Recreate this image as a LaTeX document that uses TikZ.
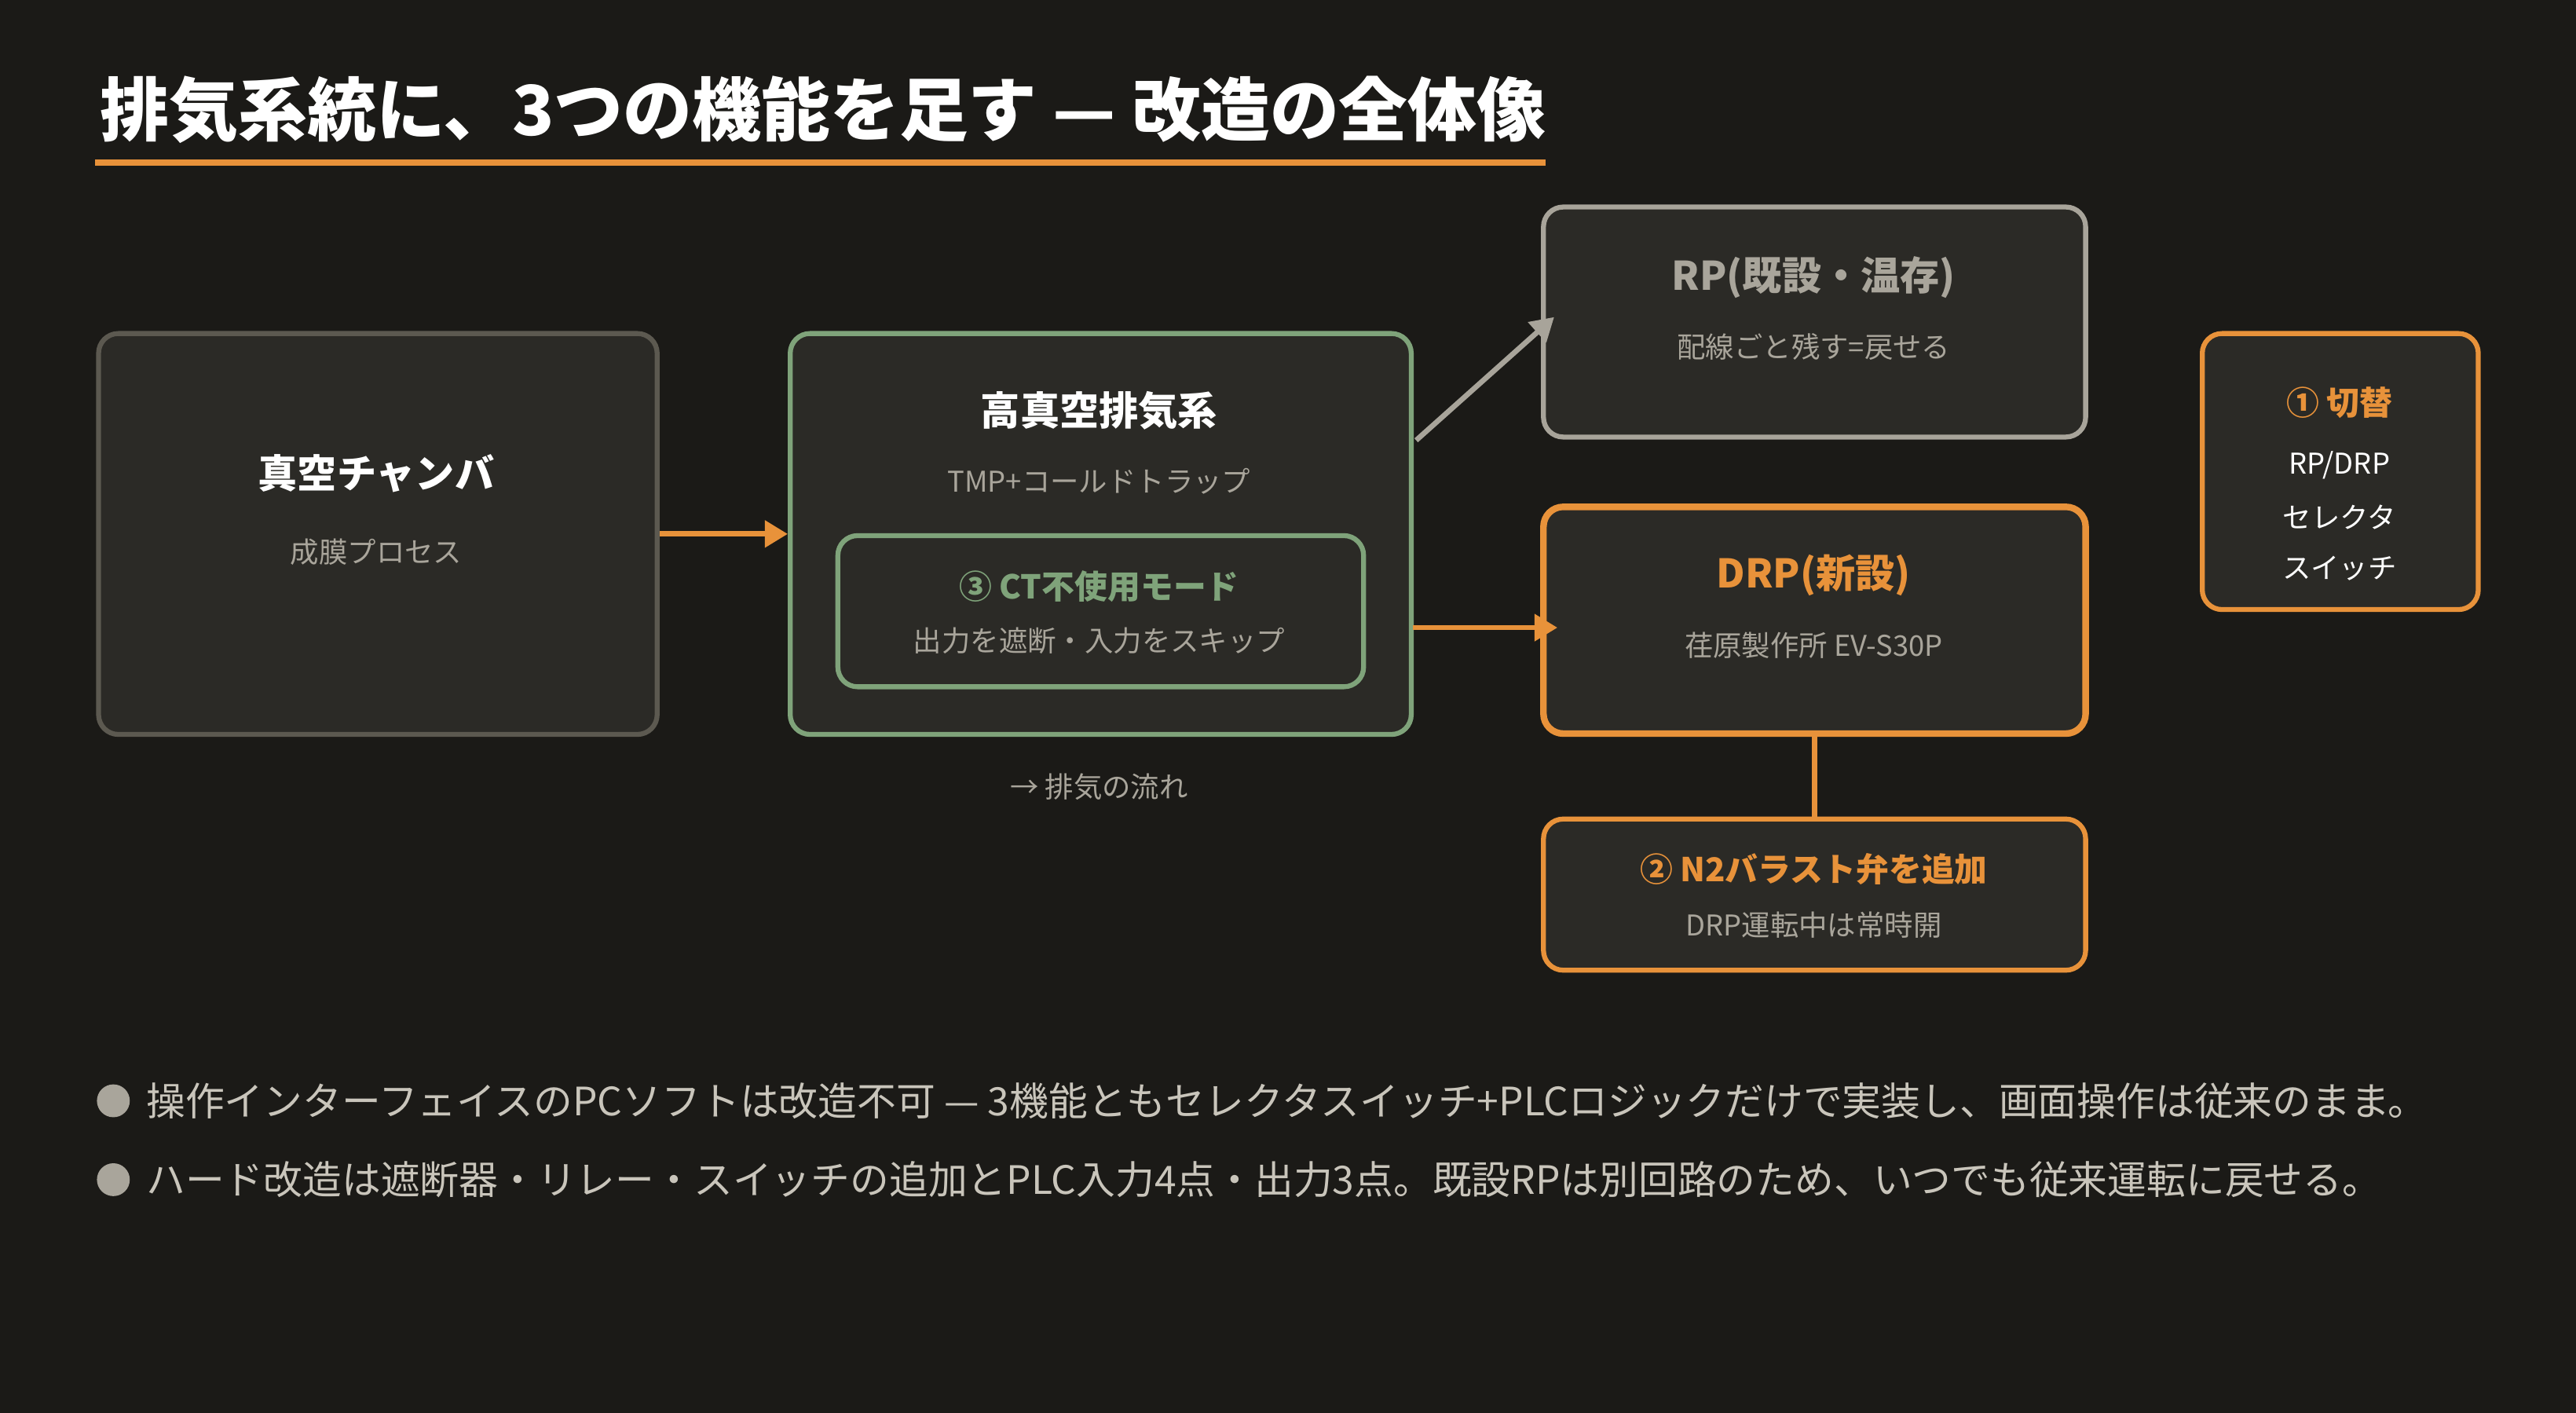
\documentclass[tikz,border=0pt]{standalone}
\usepackage{fontspec}
\setmainfont{Noto Sans CJK JP}
\usetikzlibrary{arrows.meta,positioning}
\definecolor{bgc}{HTML}{1B1A17}
\definecolor{boxc}{HTML}{2B2A26}
\definecolor{greyedge}{HTML}{5C5950}
\definecolor{lightedge}{HTML}{A8A49A}
\definecolor{greenc}{HTML}{7FA37A}
\definecolor{orangec}{HTML}{E8923A}
\definecolor{subc}{HTML}{A9A59B}
\definecolor{bodyc}{HTML}{C9C5BB}
\tikzset{
  box/.style={draw, fill=boxc, rounded corners=6pt, line width=1.5pt, inner sep=0pt},
  head/.style={font=\fontsize{12}{14}\selectfont\bfseries},
  small head/.style={font=\fontsize{10}{12}\selectfont\bfseries},
  sub/.style={font=\fontsize{8.7}{10}\selectfont, text=subc},
  flow/.style={orangec, line width=1.6pt, -{Triangle[length=7pt,width=8pt]}}
}
\begin{document}
\begin{tikzpicture}[x=0.5pt,y=-0.5pt]
\fill[bgc] (0,0) rectangle (1568,860);
\useasboundingbox (0,0) rectangle (1568,860);

%title
\node[anchor=west, text=white, font=\fontsize{21}{24}\selectfont\bfseries] (title) at (54,67) {排気系統に、3つの機能を足す — 改造の全体像};
\draw[orangec, line width=2pt] (58,99) -- (941,99);

%boxes
\node[box, draw=greyedge, minimum width=170pt, minimum height=122pt] (cham) at (230,325) {};
\node[box, draw=greenc, minimum width=189pt, minimum height=122pt] (hv) at (670,325) {};
\node[box, draw=greenc, minimum width=160pt, minimum height=46pt] (ct) at (670,372) {};
\node[box, draw=lightedge, minimum width=165pt, minimum height=70pt] (rp) at (1104.5,196) {};
\node[box, draw=orangec, line width=2pt, minimum width=165pt, minimum height=69pt] (drp) at (1104.5,377.5) {};
\node[box, draw=orangec, minimum width=165pt, minimum height=46pt] (n2) at (1104.5,544.5) {};
\node[box, draw=orangec, minimum width=84pt, minimum height=84pt] (sel) at (1424.5,287) {};
\coordinate (hvOut) at (862,268);
\coordinate (rpIn) at (946,193);
\coordinate (drpOut) at (860,382);
\coordinate (drpIn) at (948,382);

%texts
\node[head, text=white] (chamT) at (229,288) {真空チャンバ};
\node[sub] (chamS) at (229,336) {成膜プロセス};
\node[head, text=white] (hvT) at (669,250) {高真空排気系};
\node[sub] (hvS) at (669,293) {TMP+コールドトラップ};
\node[small head, text=greenc] (ctT) at (669,357) {③ CT不使用モード};
\node[sub] (ctS) at (669,390) {出力を遮断・入力をスキップ};
\node[head, text=subc] (rpT) at (1104,169) {RP(既設・温存)};
\node[sub] (rpS) at (1104,211) {配線ごと残す=戻せる};
\node[head, text=orangec] (drpT) at (1104,350) {DRP(新設)};
\node[sub] (drpS) at (1104,393) {荏原製作所 EV-S30P};
\node[small head, text=orangec] (n2T) at (1104,529) {② N2バラスト弁を追加};
\node[sub] (n2S) at (1104,563) {DRP運転中は常時開};
\node[small head, text=orangec] (selT) at (1424,245) {① 切替};
\node[sub, text=white] (selA) at (1424,283) {RP/DRP};
\node[sub, text=white] (selB) at (1424,315) {セレクタ};
\node[sub, text=white] (selC) at (1424,346) {スイッチ};
\node[sub] (legend) at (669,479) {→ 排気の流れ};

%connectors
\draw[flow] (cham.east) -- (hv.west);
\draw[flow] (drpOut) -- (drpIn);
\draw[lightedge, line width=1.6pt, -{Triangle[length=7pt,width=8pt]}] (hvOut) -- (rpIn);
\draw[orangec, line width=1.5pt] (drp.south) -- (n2.north);

%notes
\fill[subc] (69,670) circle (5pt);
\fill[subc] (69,718) circle (5pt);
\node[anchor=west, text=bodyc, font=\fontsize{11.9}{14}\selectfont] (note1) at (82,670) {操作インターフェイスのPCソフトは改造不可 — 3機能ともセレクタスイッチ+PLCロジックだけで実装し、画面操作は従来のまま。};
\node[anchor=west, text=bodyc, font=\fontsize{11.9}{14}\selectfont] (note2) at (82,718) {ハード改造は遮断器・リレー・スイッチの追加とPLC入力4点・出力3点。既設RPは別回路のため、いつでも従来運転に戻せる。};
\end{tikzpicture}
\end{document}
